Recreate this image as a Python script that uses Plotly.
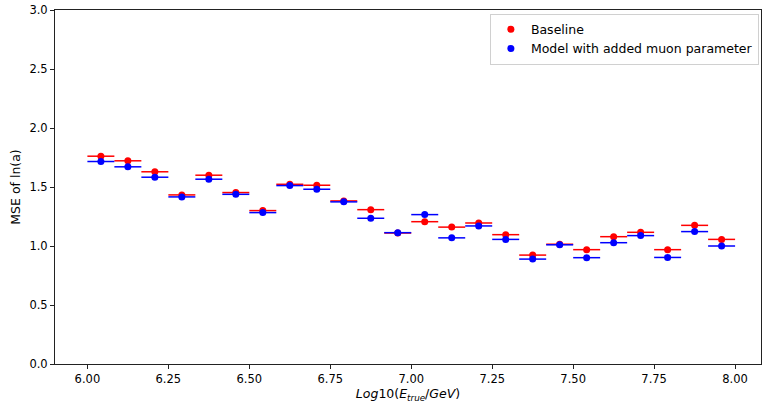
import plotly.graph_objects as go

bin_centers = [6.0 + (i + 0.5) / 12 for i in range(24)]
bin_halfwidth = [1 / 24] * 24

baseline = [1.761, 1.722, 1.629, 1.433, 1.600, 1.453, 1.300, 1.523, 1.515, 1.382,
            1.308, 1.110, 1.206, 1.160, 1.195, 1.096, 0.923, 1.015, 0.969, 1.079,
            1.116, 0.969, 1.175, 1.056]
muon_model = [1.716, 1.671, 1.583, 1.416, 1.566, 1.438, 1.283, 1.512, 1.481, 1.374,
              1.235, 1.113, 1.266, 1.069, 1.170, 1.056, 0.889, 1.010, 0.901, 1.028,
              1.088, 0.903, 1.122, 1.000]

x_ticks = [6.0, 6.25, 6.5, 6.75, 7.0, 7.25, 7.5, 7.75, 8.0]
x_tick_labels = ["6.00", "6.25", "6.50", "6.75", "7.00", "7.25", "7.50", "7.75", "8.00"]
y_ticks = [0.0, 0.5, 1.0, 1.5, 2.0, 2.5, 3.0]
y_tick_labels = ["0.0", "0.5", "1.0", "1.5", "2.0", "2.5", "3.0"]

fig = go.Figure()
for name, vals, col in [("Baseline", baseline, "#ff0000"),
                        ("Model with added muon parameter", muon_model, "#0000ff")]:
    fig.add_trace(go.Scatter(
        x=bin_centers, y=vals, mode="markers", name=name,
        marker=dict(color=col, size=7),
        error_x=dict(type="data", array=bin_halfwidth, color=col, thickness=1.5, width=0),
    ))

fig.update_layout(
    width=762, height=406,
    margin=dict(l=55, r=1, t=10, b=42),
    plot_bgcolor="white", paper_bgcolor="white",
    font=dict(family="DejaVu Sans", size=11.5, color="black"),
    showlegend=True,
    legend=dict(x=0.997, y=0.99, xanchor="right", yanchor="top",
                bordercolor="#d0d0d0", borderwidth=1, bgcolor="rgba(255,255,255,0.8)",
                font=dict(size=12.5), tracegroupgap=0, itemwidth=30),
)
fig.update_xaxes(
    range=[5.9, 8.08], tickvals=x_ticks, ticktext=x_tick_labels,
    showgrid=False, zeroline=False, showline=True, linecolor="#222", linewidth=1,
    mirror=True, ticks="outside", ticklen=4, tickcolor="#222",
    tickfont=dict(size=11.5),
    title=dict(text="<i>Log</i>10(<i>E</i><sub><i>true</i></sub>/<i>GeV</i>)", standoff=4,
               font=dict(size=12.5)),
)
fig.update_yaxes(
    range=[0, 3], tickvals=y_ticks, ticktext=y_tick_labels,
    showgrid=False, zeroline=False, showline=True, linecolor="#222", linewidth=1,
    mirror=True, ticks="outside", ticklen=4, tickcolor="#222",
    tickfont=dict(size=11.5),
    title=dict(text="MSE of ln(a)", standoff=6, font=dict(size=12.5)),
)

fig.write_html("out.html", config={"displayModeBar": False},
               post_script="document.body.style.margin='0';document.body.style.overflow='hidden';")
